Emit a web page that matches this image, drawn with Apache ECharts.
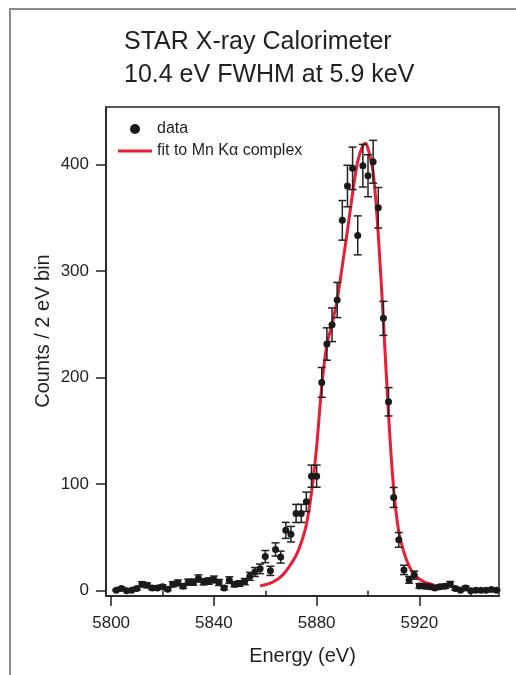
<!DOCTYPE html>
<html>
<head>
<meta charset="utf-8">
<script src="https://cdn.jsdelivr.net/npm/echarts@6/dist/echarts.min.js"></script>
<style>
  html, body { margin: 0; padding: 0; background: #fff; }
  #chart { width: 516px; height: 675px; }
</style>
</head>
<body>
<div id="chart"></div>
<script>
// Measured spectrum, 2 eV bins
const energies = [
  5802, 5804, 5806, 5808, 5810, 5812, 5814, 5816, 5818, 5820,
  5822, 5824, 5826, 5828, 5830, 5832, 5834, 5836, 5838, 5840,
  5842, 5844, 5846, 5848, 5850, 5852, 5854, 5856, 5858, 5860,
  5862, 5864, 5866, 5868, 5870, 5872, 5874, 5876, 5878, 5880,
  5882, 5884, 5886, 5888, 5890, 5892, 5894, 5896, 5898, 5900,
  5902, 5904, 5906, 5908, 5910, 5912, 5914, 5916, 5918, 5920,
  5922, 5924, 5926, 5928, 5930, 5932, 5934, 5936, 5938, 5940,
  5942, 5944, 5946, 5948, 5950
];
const counts = [
  0.5, 2, 0, 0.5, 2, 6, 5, 2.6, 2.6, 3.6,
  1.4, 6, 7.3, 4.2, 8, 8, 11.4, 8.3, 9, 10.5,
  7.7, 2.6, 9.9, 6, 6.7, 8.5, 13.5, 17.5, 20.5, 32,
  18.6, 38.7, 31.5, 56.6, 53, 72.5, 72.5, 83.4, 107.5, 107.5,
  195.5, 231.5, 249.6, 272.8, 347.6, 379.8, 396.4, 333.5, 398.9, 389.5,
  402.6, 359.4, 255.6, 177.3, 87.5, 47.7, 19.5, 10.2, 14.6, 4.5,
  4.2, 3.6, 2.6, 3.6, 4.2, 6.1, 2.1, 0.5, 2.6, 0,
  0.5, 0.5, 0.5, 1.1, 0.5
];
// One-sigma uncertainties of each bin
const errors = [
  0.7, 1.4, 0, 0.7, 1.4, 2.4, 2.2, 1.6, 1.6, 1.9,
  1.2, 2.4, 2.7, 2.0, 2.8, 2.8, 3.4, 2.9, 3.0, 3.2,
  2.8, 1.6, 3.1, 2.4, 2.6, 2.9, 3.7, 4.2, 4.5, 5.7,
  4.3, 6.2, 5.6, 7.5, 7.3, 8.5, 8.5, 9.1, 10.4, 10.4,
  14.0, 15.2, 15.8, 16.5, 18.6, 19.5, 19.9, 18.3, 20.0, 19.7,
  20.1, 19.0, 16.0, 13.3, 9.4, 6.9, 4.4, 3.2, 3.8, 2.1,
  2.0, 1.9, 1.6, 1.9, 2.0, 2.5, 1.4, 0.7, 1.6, 0,
  0.7, 0.7, 0.7, 1.0, 0.7
];

// Fitted Mn K-alpha line profile
const fitEnergies = [
  5858, 5860, 5862, 5864, 5866, 5868, 5870, 5872, 5874, 5876,
  5878, 5880, 5882, 5884, 5886, 5888, 5890, 5892, 5894, 5896,
  5898, 5899, 5900, 5902, 5904, 5906, 5908, 5910, 5912, 5914,
  5916, 5918, 5920, 5922, 5924, 5926
];
const fitCounts = [
  4.5, 5.5, 7, 9.5, 13, 18, 25, 33, 45, 62,
  92, 135, 192, 231, 250, 273, 305, 338, 373, 403,
  418, 420, 415, 393, 334, 253, 165, 95, 55, 36,
  23, 15, 11, 8, 6.5, 5
];

const xMajorTicks = [5800, 5840, 5880, 5920];
const xMinorTicks = [5820, 5860, 5900, 5940];
const yTicks = [0, 100, 200, 300, 400];

const FONT = '"Liberation Sans", Arial, Helvetica, sans-serif';
const INK = '#231f20';
const FIT_RED = '#ea1d36';

const chart = echarts.init(document.getElementById('chart'), null, { renderer: 'canvas' });

const points = energies.map((e, i) => [e, counts[i]]);
const bars = energies.map((e, i) => [e, counts[i] - errors[i], counts[i] + errors[i]]);
const fitLine = fitEnergies.map((e, i) => [e, fitCounts[i]]);

chart.setOption({
  animation: false,
  backgroundColor: '#fff',
  textStyle: { fontFamily: FONT },
  title: {
    text: 'STAR X-ray Calorimeter\n10.4 eV FWHM at 5.9 keV',
    left: 119,
    top: 21,
    textStyle: { fontFamily: FONT, fontSize: 25, fontWeight: 'normal', color: INK, lineHeight: 33 }
  },
  graphic: [{
    // page frame
    type: 'polyline',
    shape: { points: [[10, 675], [10, 9], [516, 9]] },
    style: { stroke: '#8c8c8c', lineWidth: 2, fill: null },
    silent: true
  }, {
    // vertical axis title
    type: 'text',
    x: 43,
    y: 331,
    rotation: Math.PI / 2,
    style: {
      text: 'Counts / 2 eV bin',
      fontFamily: FONT, fontSize: 20, fill: INK,
      align: 'center', verticalAlign: 'middle'
    },
    silent: true
  }],
  legend: {
    data: [
      { name: 'data', icon: 'circle' },
      { name: 'fit to Mn K\u03b1 complex', icon: 'path://M0,0 L34,0 L34,3 L0,3 Z' }
    ],
    orient: 'vertical',
    left: 113,
    top: 116,
    itemWidth: 34,
    itemHeight: 10,
    itemGap: 6,
    textStyle: { fontFamily: FONT, fontSize: 16, color: INK, lineHeight: 16 }
  },
  grid: {
    left: 106, right: 17, top: 107, bottom: 79,
    show: true, borderColor: INK, borderWidth: 1.5, backgroundColor: 'transparent'
  },
  xAxis: [{
    type: 'value',
    min: 5798, max: 5951,
    name: 'Energy (eV)',
    nameLocation: 'middle',
    nameGap: 50,
    nameTextStyle: { fontFamily: FONT, fontSize: 20, color: INK },
    axisLine: { show: true, onZero: false, lineStyle: { color: INK, width: 1.5 } },
    axisTick: { show: true, inside: false, length: 10, customValues: xMajorTicks, lineStyle: { color: INK, width: 1.5 } },
    axisLabel: {
      customValues: xMajorTicks, margin: 19, fontFamily: FONT, fontSize: 17, color: INK,
      formatter: v => String(v)
    },
    splitLine: { show: false }
  }, {
    type: 'value',
    min: 5798, max: 5951,
    position: 'bottom',
    axisLine: { show: false },
    axisTick: { show: true, inside: false, length: 6, customValues: xMinorTicks, lineStyle: { color: INK, width: 1.5 } },
    axisLabel: { show: false },
    splitLine: { show: false }
  }],
  yAxis: {
    type: 'value',
    min: -5, max: 454,
    axisLine: { show: true, onZero: false, lineStyle: { color: INK, width: 1.5 } },
    axisTick: { show: true, inside: false, length: 10, customValues: yTicks, lineStyle: { color: INK, width: 1.5 } },
    axisLabel: { customValues: yTicks, margin: 17, fontFamily: FONT, fontSize: 17, color: INK },
    splitLine: { show: false }
  },
  series: [{
    name: 'fit to Mn K\u03b1 complex',
    type: 'line',
    data: fitLine,
    smooth: 0.3,
    symbol: 'none',
    lineStyle: { color: FIT_RED, width: 3 },
    itemStyle: { color: FIT_RED },
    z: 2
  }, {
    name: 'error',
    type: 'custom',
    data: bars,
    encode: { x: 0, y: [1, 2] },
    z: 3,
    renderItem: function (params, api) {
      const x = api.value(0);
      const lo = api.coord([x, api.value(1)]);
      const hi = api.coord([x, api.value(2)]);
      const cap = 4;
      const style = { stroke: '#222', lineWidth: 1.5 };
      if (Math.abs(hi[1] - lo[1]) < 0.5) return null;
      return {
        type: 'group',
        children: [
          { type: 'line', shape: { x1: lo[0], y1: lo[1], x2: hi[0], y2: hi[1] }, style: style },
          { type: 'line', shape: { x1: lo[0] - cap, y1: lo[1], x2: lo[0] + cap, y2: lo[1] }, style: style },
          { type: 'line', shape: { x1: hi[0] - cap, y1: hi[1], x2: hi[0] + cap, y2: hi[1] }, style: style }
        ]
      };
    }
  }, {
    name: 'data',
    type: 'scatter',
    data: points,
    symbol: 'circle',
    symbolSize: 7,
    itemStyle: { color: '#1a1a1a', opacity: 1 },
    z: 4
  }]
});
</script>
</body>
</html>
